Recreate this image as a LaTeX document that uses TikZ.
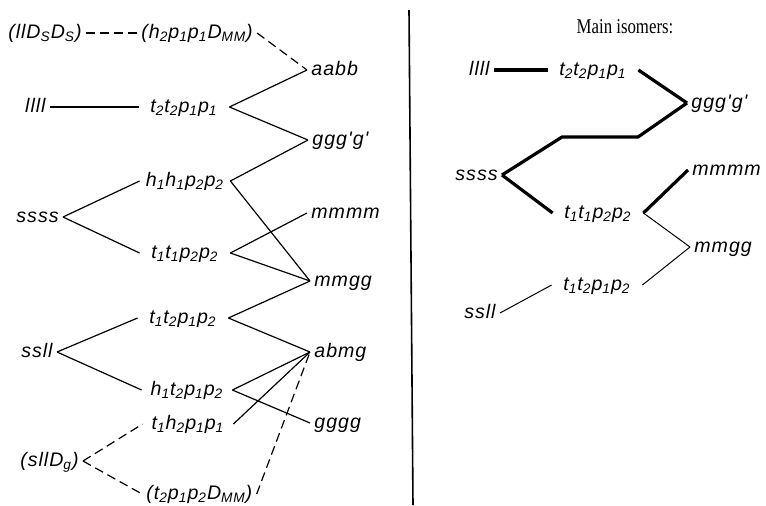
\documentclass[tikz,border=0pt]{standalone}
\usepackage{fontspec}
\setmainfont{Liberation Serif}
\newfontfamily\labfont{Liberation Sans}[LetterSpace=5]
\newcommand{\lsub}[1]{\textsubscript{#1}}

\begin{document}
\begin{tikzpicture}[x=0.5pt,y=-0.5pt,
  lab/.style={font=\labfont\itshape\fontsize{9.8}{11}\selectfont,inner sep=2pt,text height=7pt,text depth=2pt},
  mid/.style={lab,minimum width=45pt,inner sep=1pt},
  conn/.style={line width=0.6pt},
  dconn/.style={conn,dash pattern=on 4.5pt off 2.5pt},
  major/.style={line width=1.6pt},
  minor/.style={line width=0.5pt}]
\useasboundingbox (0,0) rectangle (766,505);
% left panel: starting conformers
\node[lab,anchor=east] (lDD) at (86,33) {(llD\lsub{S}D\lsub{S})};
\node[lab,anchor=east] (llll) at (50,107) {llll};
\node[lab,anchor=east] (ssss) at (63,217) {ssss};
\node[lab,anchor=east] (ssll) at (57,352) {ssll};
\node[lab,anchor=east] (slD) at (83,461) {(sllD\lsub{g})};
% intermediate column
\node[lab,anchor=west] (hDM) at (137,33) {(h\lsub{2}p\lsub{1}p\lsub{1}D\lsub{MM})};
\foreach \n/\x/\y/\t in {
  ttpp/184/107/{t\lsub{2}t\lsub{2}p\lsub{1}p\lsub{1}},
  hhpp/185/181/{h\lsub{1}h\lsub{1}p\lsub{2}p\lsub{2}},
  ttqq/185/253/{t\lsub{1}t\lsub{1}p\lsub{2}p\lsub{2}},
  tupq/183/318/{t\lsub{1}t\lsub{2}p\lsub{1}p\lsub{2}},
  hupq/187/390/{h\lsub{1}t\lsub{2}p\lsub{1}p\lsub{2}},
  thpp/188/424/{t\lsub{1}h\lsub{2}p\lsub{1}p\lsub{1}}}{
  \node[mid] (\n) at (\x,\y) {\t};
}
\node[lab,anchor=west] (tDM) at (142,494) {(t\lsub{2}p\lsub{1}p\lsub{2}D\lsub{MM})};
% final conformers
\foreach \n/\x/\y/\t in {
  aabb/307/70/aabb, gggp/308/140/ggg'g', mmmm/307/213/mmmm,
  mmgg/310/281/mmgg, abmg/310/352/abmg, gggg/310/423/gggg}{
  \node[lab,anchor=west] (\n) at (\x,\y) {\t};
}
% connectors
\draw[dconn] (lDD.east) -- (hDM.west);
\draw[dconn] (hDM.east) -- (aabb.west);
\draw[conn] (llll.east) -- (ttpp.west);
\foreach \a/\b in {ssss/hhpp, ssss/ttqq, ssll/tupq, ssll/hupq}
  \draw[conn] (\a.east) -- (\b.west);
\foreach \a/\b in {ttpp/aabb, ttpp/gggp, hhpp/gggp, hhpp/mmgg, ttqq/mmmm, ttqq/mmgg,
  tupq/mmgg, tupq/abmg, hupq/abmg, hupq/gggg, thpp/abmg}
  \draw[conn] (\a.east) -- (\b.west);
\draw[dconn] (slD.east) -- (thpp.west);
\draw[dconn] (slD.east) -- (tDM.west);
\draw[dconn] (tDM.east) -- (abmg.west);
% divider
\draw[line width=0.8pt] (409,10) -- (413,505);
% right panel: main isomers
\node[font=\fontsize{10.5}{12}\selectfont] (title) at (625,27) {\scalebox{0.8}[1]{Main isomers:}};
\node[lab,anchor=east] (Rllll) at (494,70) {llll};
\node[lab,anchor=east] (Rssss) at (502,175) {ssss};
\node[lab,anchor=east] (Rssll) at (500,313) {ssll};
\node[mid] (Rttpp) at (593,70) {t\lsub{2}t\lsub{2}p\lsub{1}p\lsub{1}};
\node[mid] (Rttqq) at (598,213) {t\lsub{1}t\lsub{1}p\lsub{2}p\lsub{2}};
\node[mid] (Rtupq) at (597,285) {t\lsub{1}t\lsub{2}p\lsub{1}p\lsub{2}};
\node[lab,anchor=west] (Rgggp) at (687,103) {ggg'g'};
\node[lab,anchor=west] (Rmmmm) at (688,170) {mmmm};
\node[lab,anchor=west] (Rmmgg) at (690,247) {mmgg};
\draw[major] (Rllll.east) -- (Rttpp.west);
\draw[major] (Rttpp.east) -- (Rgggp.west);
\draw[major] (Rgggp.west) -- ++(-49,34) -- ++(-76,0) -- (Rssss.east);
\draw[major] (Rssss.east) -- (Rttqq.west);
\draw[major] (Rttqq.east) -- (Rmmmm.west);
\draw[minor] (Rttqq.east) -- (Rmmgg.west);
\draw[minor] (Rmmgg.west) -- (Rtupq.east);
\draw[minor] (Rtupq.west) -- (Rssll.east);
\end{tikzpicture}
\end{document}
